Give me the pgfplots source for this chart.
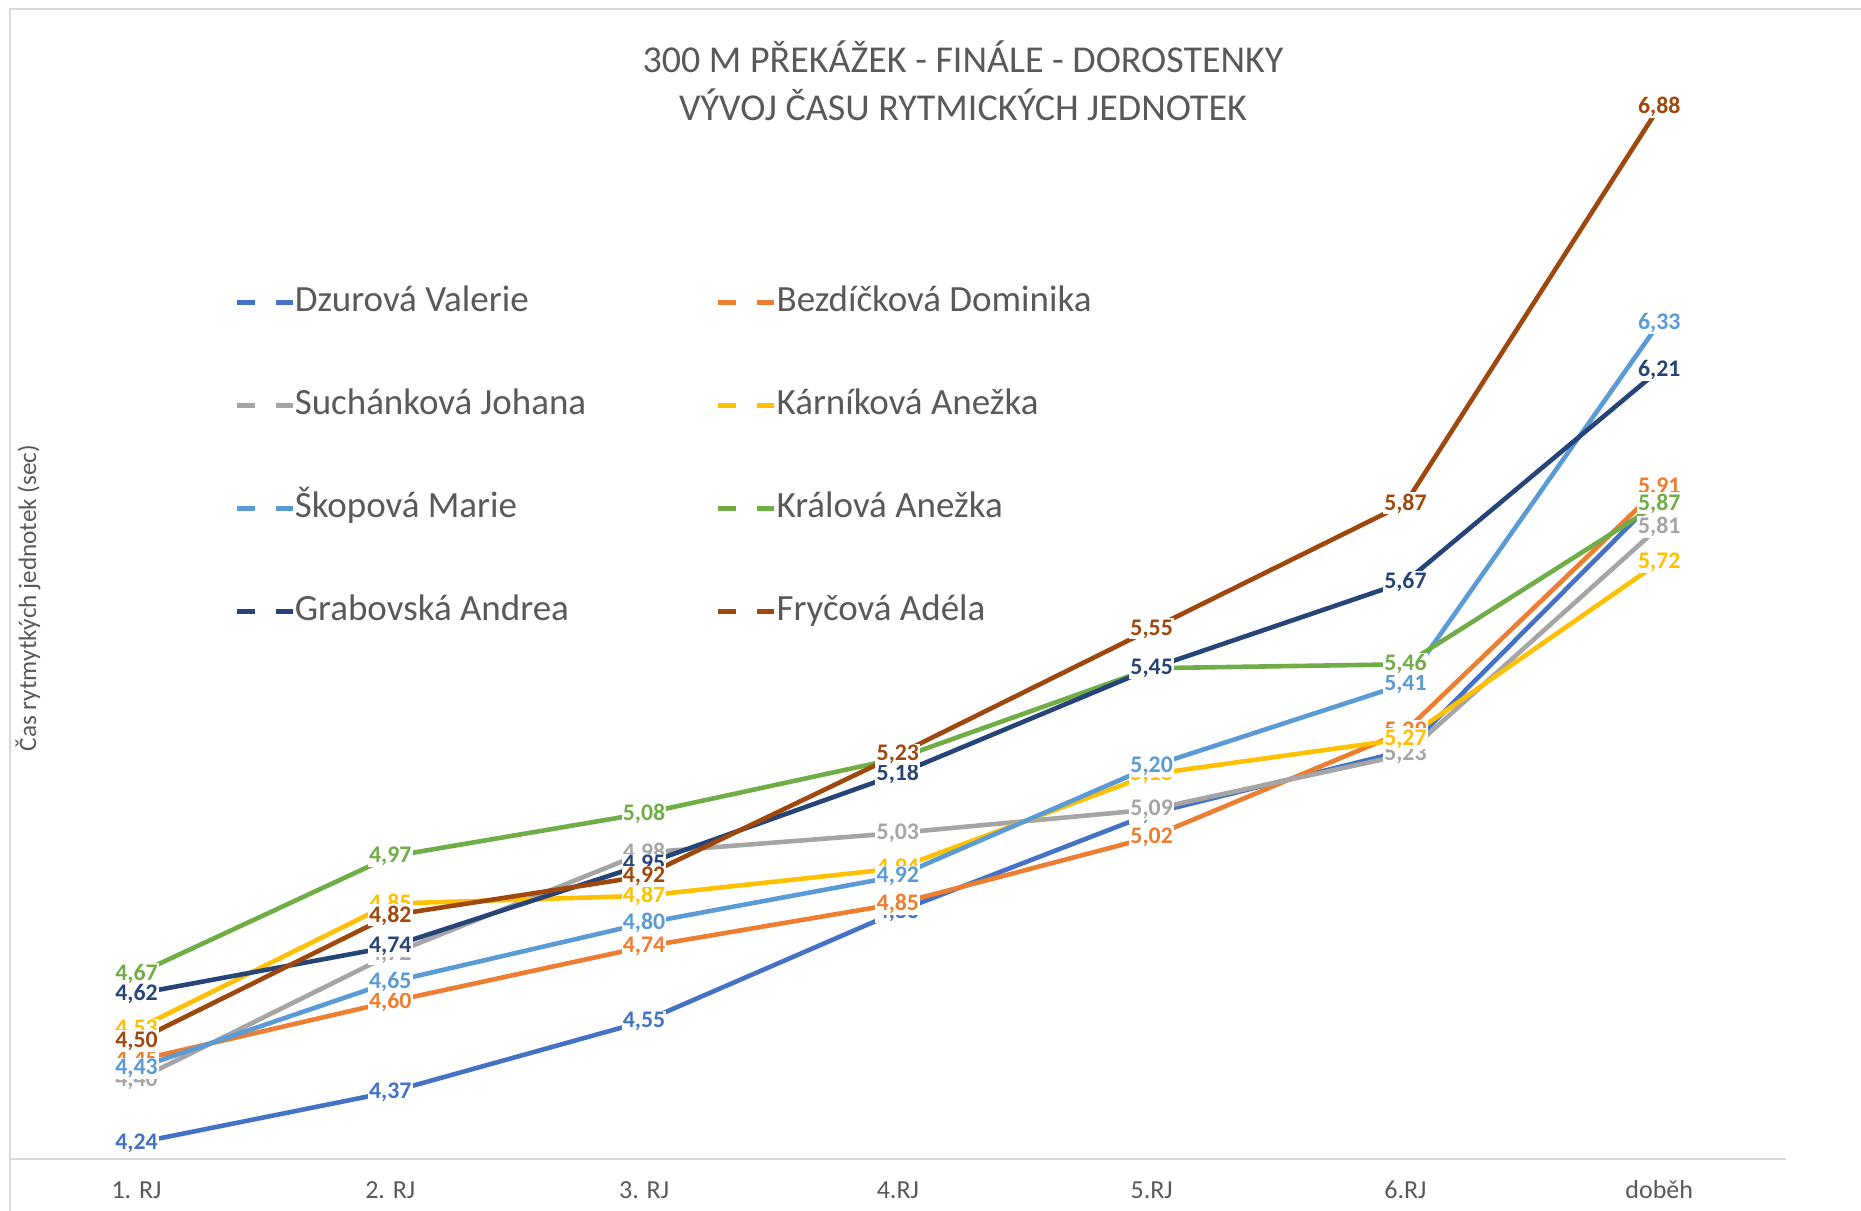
\documentclass[border=0pt]{standalone}
\usepackage{fontspec}
\setmainfont{Carlito}
\usepackage{pgfplots}
\usepackage{pgfplotstable}
\pgfplotsset{compat=1.18}
\definecolor{c1}{HTML}{4472C4}
\definecolor{c2}{HTML}{ED7D31}
\definecolor{c3}{HTML}{A5A5A5}
\definecolor{c4}{HTML}{FFC000}
\definecolor{c5}{HTML}{5B9BD5}
\definecolor{c6}{HTML}{70AD47}
\definecolor{c7}{HTML}{264478}
\definecolor{c8}{HTML}{9E480E}
\definecolor{textgray}{HTML}{595959}
\definecolor{axisgray}{HTML}{D9D9D9}
\pgfplotstableread{
x Dz Be Su Ka Sk Kr Gr Fr
0 4.24 4.45 4.40 4.53 4.43 4.67 4.62 4.50
1 4.37 4.60 4.72 4.85 4.65 4.97 4.74 4.82
2 4.55 4.74 4.98 4.87 4.80 5.08 4.95 4.92
3 4.83 4.85 5.03 4.94 4.92 5.22 5.18 5.23
4 5.08 5.02 5.09 5.18 5.20 5.45 5.45 5.55
5 5.24 5.29 5.23 5.27 5.41 5.46 5.67 5.87
6 5.89 5.91 5.81 5.72 6.33 5.87 6.21 6.88
}\data
\begin{document}
\begin{tikzpicture}
\useasboundingbox (0,0) rectangle (930.5pt,605pt);
\draw[axisgray, line width=1pt] (4.75pt,-10pt) -- (4.75pt,600.25pt) -- (940pt,600.25pt);
\begin{axis}[
  at={(4.8pt,25.65pt)}, anchor=south west,
  width=888.25pt, height=549.35pt, scale only axis,
  xmin=-0.5, xmax=6.5, ymin=4.2, ymax=7.0,
  axis x line*=bottom, axis y line=none,
  x axis line style={draw=axisgray, line width=1pt},
  xtick={0,1,2,3,4,5,6},
  xticklabels={1. RJ,2. RJ,3. RJ,4.RJ,5.RJ,6.RJ,doběh},
  major tick length=0pt,
  xticklabel style={anchor=base, yshift=-19.8pt, text=textgray, font=\fontsize{13}{15}\selectfont},
  ytick=\empty,
  clip=false,
  legend columns=2,
  legend cell align=left,
  legend image code/.code={
    \draw[#1,line width=2.2pt] (0pt,0pt) -- (9pt,0pt);
    \draw[#1,line width=2.2pt] (19.5pt,0pt) -- (28pt,0pt);
  },
  legend style={draw=none, fill=none, inner sep=0pt,
    at={(axis description cs:0.1263,0.7952)}, anchor=north west,
    row sep=34.5pt, text=textgray,
    font=\fontsize{18.5}{20}\selectfont,
    nodes={inner sep=0pt, text height=13pt, text depth=4pt},
    /tikz/every odd column/.append style={column sep=0pt},
    /tikz/every even column/.append style={column sep=65pt}},
  every axis plot/.append style={line width=2.3pt},
  nodes near coords={\pgfmathprintnumber[fixed,fixed zerofill,precision=2,use comma,assume math mode=true]{\pgfplotspointmeta}},
  every node near coord/.append style={anchor=center, fill=white, inner sep=0.6pt,
    font=\fontsize{11.9}{13}\selectfont\bfseries},
]
\addplot[c1, nodes near coords=] table[x=x,y=Dz] {\data};
\addlegendentry{Dzurová Valerie}
\addplot[c2, nodes near coords=] table[x=x,y=Be] {\data};
\addlegendentry{Bezdíčková Dominika}
\addplot[c3, nodes near coords=] table[x=x,y=Su] {\data};
\addlegendentry{Suchánková Johana}
\addplot[c4, nodes near coords=] table[x=x,y=Ka] {\data};
\addlegendentry{Kárníková Anežka}
\addplot[c5, nodes near coords=] table[x=x,y=Sk] {\data};
\addlegendentry{Škopová Marie}
\addplot[c6, nodes near coords=] table[x=x,y=Kr] {\data};
\addlegendentry{Králová Anežka}
\addplot[c7, nodes near coords=] table[x=x,y=Gr] {\data};
\addlegendentry{Grabovská Andrea}
\addplot[c8, nodes near coords=] table[x=x,y=Fr] {\data};
\addlegendentry{Fryčová Adéla}
% data labels on top of all lines
\addplot[draw=none, forget plot, nodes near coords style={text=c1}] table[x=x,y=Dz] {\data};
\addplot[draw=none, forget plot, nodes near coords style={text=c2}] table[x=x,y=Be] {\data};
\addplot[draw=none, forget plot, nodes near coords style={text=c3}] table[x=x,y=Su] {\data};
\addplot[draw=none, forget plot, nodes near coords style={text=c4}] table[x=x,y=Ka] {\data};
\addplot[draw=none, forget plot, nodes near coords style={text=c5}] table[x=x,y=Sk] {\data};
\addplot[draw=none, forget plot, nodes near coords style={text=c6}] table[x=x,y=Kr] {\data};
\addplot[draw=none, forget plot, nodes near coords style={text=c7}] table[x=x,y=Gr] {\data};
\addplot[draw=none, forget plot, nodes near coords style={text=c8}] table[x=x,y=Fr] {\data};
\end{axis}
\node[align=center, text=textgray, font=\fontsize{19}{23.75}\selectfont] at (481.5pt,564.5pt)
  {300 M PŘEKÁŽEK - FINÁLE - DOROSTENKY\\VÝVOJ ČASU RYTMICKÝCH JEDNOTEK};
\node[rotate=90, text=textgray, font=\fontsize{12.6}{15}\selectfont] at (14pt,306pt)
  {Čas rytmytkých jednotek (sec)};
\end{tikzpicture}
\end{document}
